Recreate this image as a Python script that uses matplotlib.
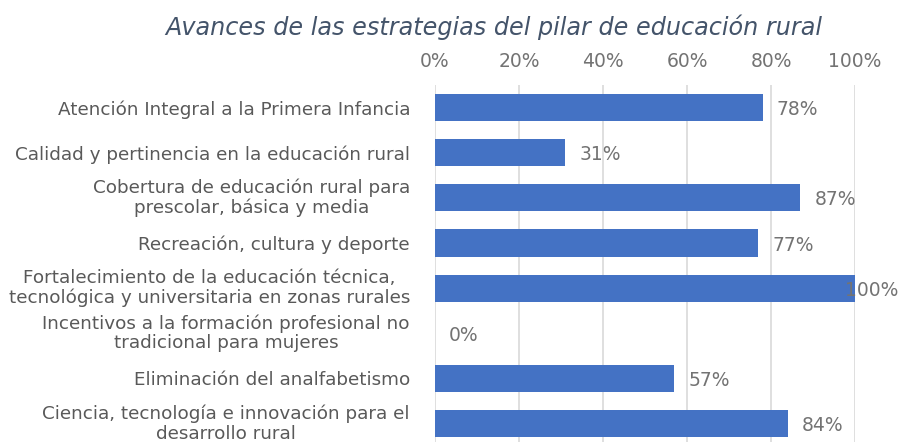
import numpy as np
import matplotlib
matplotlib.use('Agg')
import matplotlib.pyplot as plt
from matplotlib.transforms import ScaledTranslation

# datos
estrategias = [
    'Atención Integral a la Primera Infancia',
    'Calidad y pertinencia en la educación rural',
    'Cobertura de educación rural para\nprescolar, básica y media',
    'Recreación, cultura y deporte',
    'Fortalecimiento de la educación técnica,\ntecnológica y universitaria en zonas rurales',
    'Incentivos a la formación profesional no\ntradicional para mujeres',
    'Eliminación del analfabetismo',
    'Ciencia, tecnología e innovación para el\ndesarrollo rural',
]
avance = [78, 31, 87, 77, 100, 0, 57, 84]
ticks_x = [0, 20, 40, 60, 80, 100]

gris = '#595959'
gris_claro = '#737373'
azul = '#4472C4'

plt.rcParams['font.family'] = ['DejaVu Sans']

fig = plt.figure(figsize=(9.01, 4.42), dpi=100)
ax = fig.add_axes([435 / 901, 0, 420 / 901, 1 - 85 / 442])

y = np.arange(len(estrategias))
ax.barh(y, avance, height=0.6, color=azul, zorder=3)

ax.set_xlim(0, 100)
ax.set_ylim(7.41, -0.5)
ax.set_xticks(ticks_x)
ax.set_xticklabels([f'{t}%' for t in ticks_x])
ax.xaxis.tick_top()
ax.tick_params(axis='x', length=0, pad=10, labelsize=13.5, colors=gris_claro)
ax.set_yticks(y)
ax.set_yticklabels(estrategias, multialignment='center', linespacing=1.1)
ax.tick_params(axis='y', length=0, pad=18, labelsize=13.2, colors=gris)
# subir un poco las etiquetas de dos líneas para que no se corten abajo
desp = ScaledTranslation(0, 2.5 / 100, fig.dpi_scale_trans)
for lab in ax.get_yticklabels():
    if '\n' in lab.get_text():
        lab.set_transform(lab.get_transform() + desp)
ax.grid(axis='x', color='#D9D9D9', linewidth=1.2, zorder=0)
for s in ax.spines.values():
    s.set_visible(False)

for yi, v in zip(y, avance):
    off = 10 if v < 100 else -7
    ax.annotate(f'{v}%', (v, yi), xytext=(off, -1.5), textcoords='offset points',
                ha='left', va='center', fontsize=13.5, color=gris_claro,
                annotation_clip=False, zorder=4)

fig.text(0.548, 1 - 27 / 442, 'Avances de las estrategias del pilar de educación rural',
         ha='center', va='center', fontsize=17.2, style='italic', color='#44546A')

fig.savefig('out.png', dpi=100)
